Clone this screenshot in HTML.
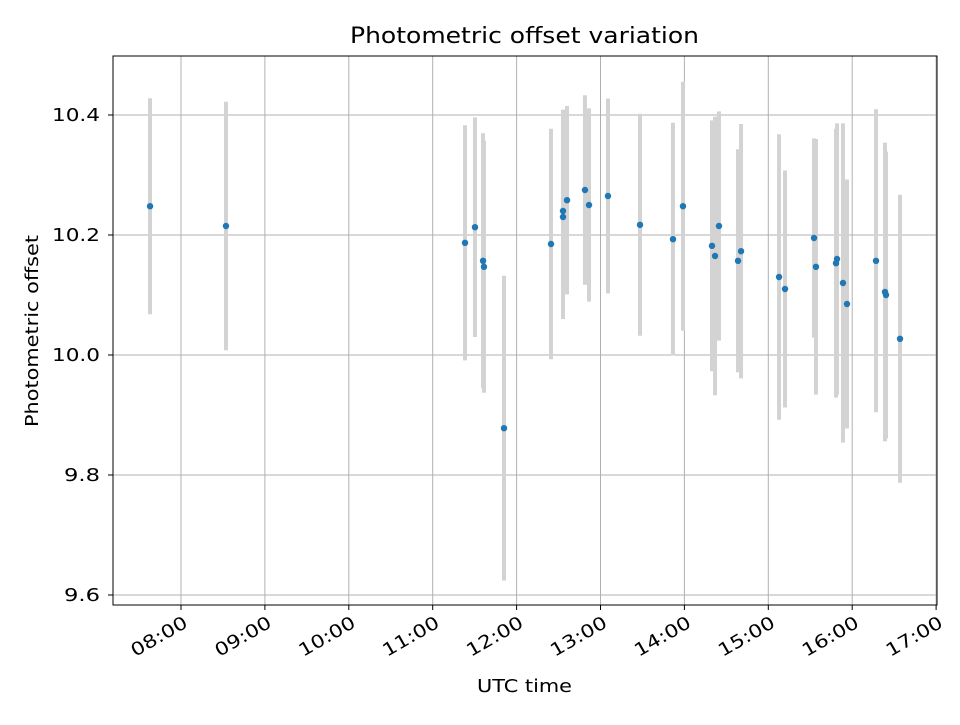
<!DOCTYPE html>
<html><head><meta charset="utf-8"><style>
body{margin:0;background:#fff;}
svg text{font-family:"DejaVu Sans","Liberation Sans",sans-serif;fill:#000;}
</style></head><body>
<svg id="chart" width="960" height="720" xmlns="http://www.w3.org/2000/svg">
<rect width="960" height="720" fill="#fff"/>
<g id="grid"></g>
<g id="bars"></g>
<g id="pts"></g>
<rect x="113" y="56" width="824" height="549" fill="none" stroke="#000" stroke-width="1"/>
<g id="ticks"></g>
<text x="350" y="43" font-size="22" textLength="349" lengthAdjust="spacingAndGlyphs">Photometric offset variation</text>
<text x="477" y="692" font-size="18" textLength="95" lengthAdjust="spacingAndGlyphs">UTC time</text>
<text x="0" y="0" font-size="18" textLength="192" lengthAdjust="spacingAndGlyphs" transform="translate(38 427) rotate(-90)">Photometric offset</text>
</svg>
<script>
const times=[7.631,8.536,11.385,11.504,11.600,11.611,11.850,12.410,12.553,12.553,12.601,12.815,12.863,13.089,13.471,13.864,13.983,14.329,14.365,14.412,14.639,14.675,15.128,15.199,15.545,15.568,15.807,15.819,15.890,15.938,16.284,16.391,16.403,16.570];
const values=[10.248,10.215,10.187,10.213,10.157,10.147,9.878,10.185,10.240,10.230,10.258,10.275,10.250,10.265,10.217,10.193,10.248,10.182,10.165,10.215,10.157,10.173,10.130,10.110,10.195,10.147,10.153,10.160,10.120,10.085,10.157,10.105,10.100,10.027];
const errors=[0.18,0.207,0.196,0.183,0.2125,0.21,0.254,0.192,0.169,0.17,0.157,0.158,0.161,0.1625,0.185,0.194,0.2075,0.209,0.232,0.191,0.186,0.212,0.238,0.1975,0.166,0.213,0.224,0.226,0.266,0.2075,0.2525,0.249,0.239,0.24];
const xTicks=[8,9,10,11,12,13,14,15,16,17];
const xTickLabels=["08:00","09:00","10:00","11:00","12:00","13:00","14:00","15:00","16:00","17:00"];
const yTicks=[9.6,9.8,10.0,10.2,10.4];
const yTickLabels=["9.6","9.8","10.0","10.2","10.4"];
const NS="http://www.w3.org/2000/svg";
const X=h=>181+(h-8)*83.9;
const Y=v=>355-(v-10)*600;
function mk(tag,attrs,parent){const e=document.createElementNS(NS,tag);for(const k in attrs)e.setAttribute(k,attrs[k]);parent.appendChild(e);return e;}
const grid=document.getElementById('grid'),ticks=document.getElementById('ticks'),bars=document.getElementById('bars'),pts=document.getElementById('pts');
xTicks.forEach((t,i)=>{const x=X(t);
 const g=mk('line',{x1:x,x2:x,y1:56,y2:605,stroke:'#b0b0b0','stroke-width':1},grid);
 
 
 const tk=mk('line',{x1:x,x2:x,y1:605,y2:610,stroke:'#000','stroke-width':1},ticks);
 
 
 const tx=mk('text',{x:0,y:0,'font-size':18,'text-anchor':'end',textLength:62,lengthAdjust:'spacingAndGlyphs',transform:`translate(${x+1} 614) rotate(-30) translate(0 14)`},ticks);
 tx.textContent=xTickLabels[i];
 
 
});
yTicks.forEach((t,i)=>{const y=Y(t);
 const g=mk('line',{x1:113,x2:937,y1:y,y2:y,stroke:'#b0b0b0','stroke-width':1},grid);
 
 
 const tk=mk('line',{x1:108,x2:113,y1:y,y2:y,stroke:'#000','stroke-width':1},ticks);
 
 
 const len=yTickLabels[i].length===4?48:36;
 const tx=mk('text',{x:100-len,y:y+6,'font-size':18,textLength:len,lengthAdjust:'spacingAndGlyphs'},ticks);
 tx.textContent=yTickLabels[i];
 
 
});
times.forEach((t,i)=>{const x=X(t);
 const b=mk('line',{x1:x,x2:x,y1:Y(values[i]+errors[i]),y2:Y(values[i]-errors[i]),stroke:'#d3d3d3','stroke-width':4},bars);
 
 
});
times.forEach((t,i)=>{
 const c=mk('circle',{cx:X(t),cy:Y(values[i]),r:3.2,fill:'#1f77b4'},pts);
 
 
});
</script>
</body></html>
